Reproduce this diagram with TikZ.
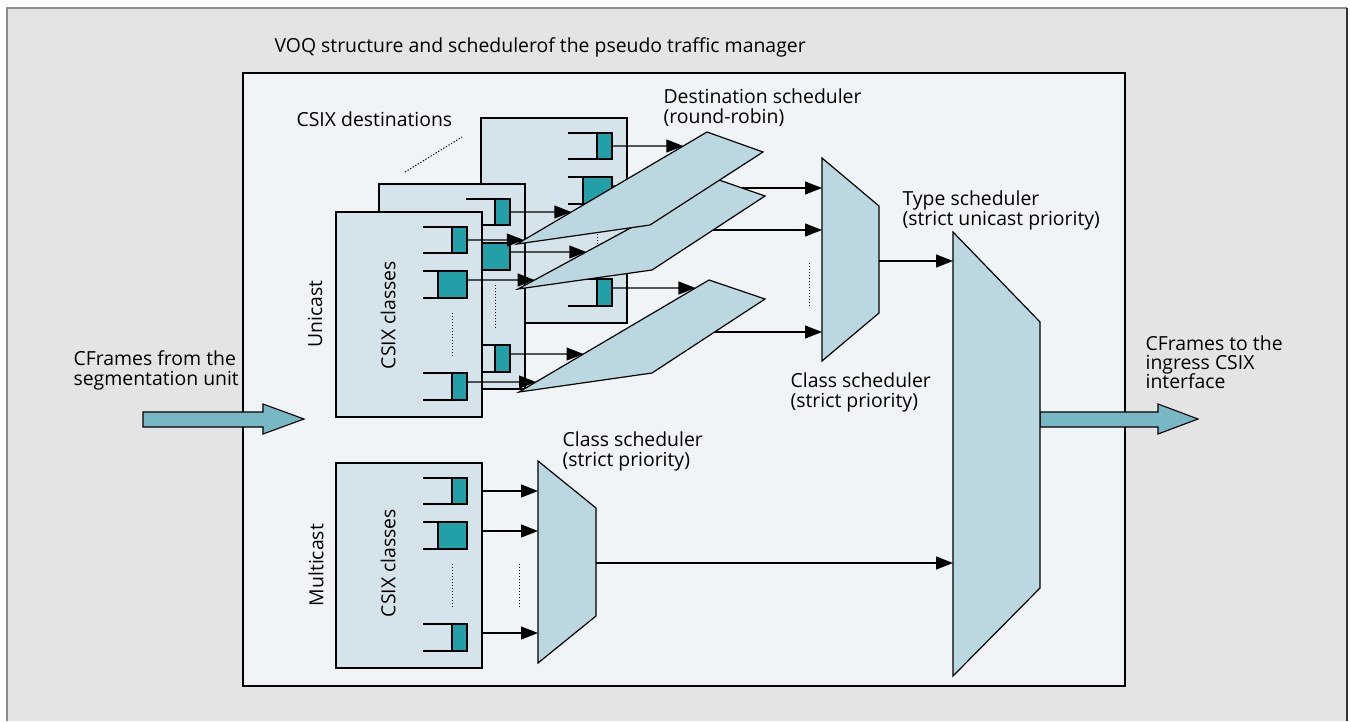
\documentclass[tikz,border=0pt]{standalone}
\usepackage{fontspec}
\setmainfont{Open Sans}
\usetikzlibrary{arrows.meta}
\definecolor{bggray}{HTML}{E4E4E4}
\definecolor{panel}{HTML}{F0F4F7}
\definecolor{boxfill}{HTML}{D5E3EA}
\definecolor{schedfill}{HTML}{BBD8E0}
\definecolor{cellteal}{HTML}{229FA7}
\definecolor{flowfill}{HTML}{78B8C5}

\tikzset{
  % one VOQ block: frame, three class queues, dotted gap marker
  pics/voqbox/.style={code={
    \draw[vbox] (0,0) rectangle (146,205);
    \foreach \yy/\ww/\hh [count=\i] in {15/15/26,59/29/27,161/15/27}{
      \draw[fill=cellteal] (131-\ww,\yy) rectangle (131,\yy+\hh);
      \draw (87,\yy) -- (131,\yy) -- (131,\yy+\hh) -- (87,\yy+\hh);
    }
    \draw[dots] (116,101) -- (116,145);
    \coordinate (-o1) at (131,28);  \coordinate (-e1) at (146,28);
    \coordinate (-o2) at (131,68);  \coordinate (-e2) at (146,68);
    \coordinate (-o3) at (131,170); \coordinate (-e3) at (146,170);
  }}
}

\begin{document}
\begin{tikzpicture}[x=1pt,y=-1pt,line width=1.2pt,
  lbl/.style={anchor=base west, font=\fontsize{19.4}{20}\selectfont, inner sep=0pt},
  rlbl/.style={font=\fontsize{19.4}{20}\selectfont, rotate=90, inner sep=0pt},
  conn/.style={-{Triangle[length=17pt,width=13pt]}},
  dots/.style={line width=1pt, dash pattern=on 1.3pt off 1.7pt},
  vbox/.style={draw, fill=boxfill},
  sched/.style={draw, fill=schedfill, line join=miter},
  flow/.style={draw, fill=flowfill, line width=1.1pt},
]
\useasboundingbox (0,0) rectangle (1350,721);

% backdrop and panel
\fill[bggray] (7,8) rectangle (1347,721);
\draw[line width=2pt, draw=black!45] (7,721) -- (7,8) -- (1347,8);
\draw[line width=1.6pt, draw=black!80] (1347,8) -- (1347,721);
\draw[fill=panel, line width=1.5pt] (243,73) rectangle (1125,686);

% destination scheduler corners
\coordinate (p1L) at (517,244); \coordinate (p1T) at (707,132);
\coordinate (p1R) at (763,152); \coordinate (p1B) at (650,225);
\coordinate (p2L) at (518,289); \coordinate (p2T) at (719,180);
\coordinate (p2R) at (765,196); \coordinate (p2B) at (652,270);
\coordinate (p3L) at (519,392); \coordinate (p3T) at (709,280);
\coordinate (p3R) at (765,299); \coordinate (p3B) at (652,373);

% unicast VOQ blocks, back to front
\pic (back) at (481,118) {voqbox};
\draw[conn] (back-o1) -- (intersection of p1L--p1T and back-o1--back-e1);
\draw[conn] (back-o2) -- (intersection of p2L--p2T and back-o2--back-e2);
\draw[conn] (back-o3) -- (intersection of p3L--p3T and back-o3--back-e3);

\coordinate (dA) at (405,172); \coordinate (dB) at (462,137);
\draw[dots] (dA) -- (dB);

\pic (mid) at (379,184) {voqbox};
\draw[conn] (mid-o1) -- (intersection of p1L--p1T and mid-o1--mid-e1);
\draw[conn] (mid-o2) -- (intersection of p2L--p2T and mid-o2--mid-e2);
\draw[conn] (mid-o3) -- (intersection of p3L--p3T and mid-o3--mid-e3);

\pic (front) at (336,212) {voqbox};
\draw[conn] (front-o1) -- (intersection of p1L--p1T and front-o1--front-e1);
\draw[conn] (front-o2) -- (intersection of p2L--p2T and front-o2--front-e2);
\draw[conn] (front-o3) -- (intersection of p3L--p3T and front-o3--front-e3);

% unicast class scheduler
\coordinate (csTL) at (822,158); \coordinate (csTR) at (879,206);
\coordinate (csBR) at (879,313); \coordinate (csBL) at (822,361);
\coordinate (csIn1) at (822,188); \coordinate (csIn2) at (822,230);
\coordinate (csIn3) at (822,332); \coordinate (csOut) at (879,261);
\coordinate (p1o) at (705,188); \coordinate (p2o) at (700,230);
\coordinate (p3o) at (700,332);
\draw[conn] (p1o) -- (csIn1);
\draw[conn] (p2o) -- (csIn2);
\draw[conn] (p3o) -- (csIn3);

% destination schedulers (round-robin)
\draw[sched] (p3L) -- (p3T) -- (p3R) -- (p3B) -- cycle;
\draw[sched] (p2L) -- (p2T) -- (p2R) -- (p2B) -- cycle;
\draw[sched] (p1L) -- (p1T) -- (p1R) -- (p1B) -- cycle;

\draw[sched] (csTL) -- (csTR) -- (csBR) -- (csBL) -- cycle;
\coordinate (csdA) at (809,263); \coordinate (csdB) at (809,306);
\draw[dots] (csdA) -- (csdB);

% type scheduler
\coordinate (tsTL) at (953,232); \coordinate (tsTR) at (1040,322);
\coordinate (tsBR) at (1040,588); \coordinate (tsBL) at (953,676);
\coordinate (tsIn1) at (953,261); \coordinate (tsIn2) at (953,563);
\draw[conn] (csOut) -- (tsIn1);

% multicast block and its class scheduler
\pic (mc) at (336,463) {voqbox};
\coordinate (mTL) at (538,461); \coordinate (mTR) at (596,508);
\coordinate (mBR) at (596,616); \coordinate (mBL) at (538,663);
\coordinate (mOut) at (596,563);
\draw[conn] (mc-e1) -- (intersection of mTL--mBL and mc-o1--mc-e1);
\draw[conn] (mc-e2) -- (intersection of mTL--mBL and mc-o2--mc-e2);
\draw[conn] (mc-e3) -- (intersection of mTL--mBL and mc-o3--mc-e3);
\coordinate (mdA) at (519,564); \coordinate (mdB) at (519,607);
\draw[dots] (mdA) -- (mdB);
\draw[sched] (mTL) -- (mTR) -- (mBR) -- (mBL) -- cycle;
\draw[conn] (mOut) -- (tsIn2);

% flow arrows in and out
\draw[flow] (143,412) -- (263,412) -- (263,404) -- (304,419) -- (263,434) -- (263,427) -- (143,427) -- cycle;
\draw[flow] (1040,412) -- (1158,412) -- (1158,404) -- (1198,419) -- (1158,434) -- (1158,427) -- (1040,427) -- cycle;
\draw[sched] (tsTL) -- (tsTR) -- (tsBR) -- (tsBL) -- cycle;

% labels
\node[lbl] (title) at (274,52) {VOQ structure and schedulerof the pseudo traffic manager};
\node[lbl] (dstlbl) at (296,126) {CSIX destinations};
\node[lbl] (dsA) at (663,103) {Destination scheduler};
\node[lbl] (dsB) at (663,123) {(round-robin)};
\node[lbl] (tyA) at (902,205) {Type scheduler};
\node[lbl] (tyB) at (902,225) {(strict unicast priority)};
\node[lbl] (ucA) at (790,387) {Class scheduler};
\node[lbl] (ucB) at (790,407) {(strict priority)};
\node[lbl] (mcA) at (562,446) {Class scheduler};
\node[lbl] (mcB) at (562,466) {(strict priority)};
\node[lbl] (inA) at (73,365) {CFrames from the};
\node[lbl] (inB) at (73,385) {segmentation unit};
\node[lbl] (outA) at (1145,350) {CFrames to the};
\node[lbl] (outB) at (1145,369) {ingress CSIX};
\node[lbl] (outC) at (1145,388) {interface};
\node[rlbl] (uni) at (315,314) {Unicast};
\node[rlbl] (multi) at (316,565) {Multicast};
\node[rlbl] (fcls) at (388,315) {CSIX classes};
\node[rlbl] (mcls) at (388,563) {CSIX classes};
\end{tikzpicture}
\end{document}
